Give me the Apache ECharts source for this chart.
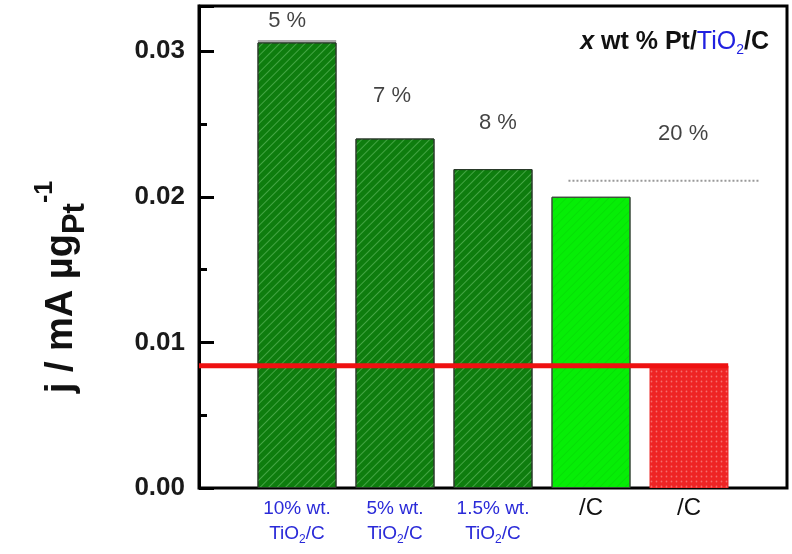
<!DOCTYPE html>
<html>
<head>
<meta charset="utf-8">
<script src="https://cdn.jsdelivr.net/npm/echarts@6/dist/echarts.min.js"></script>
<style>
  html, body { margin: 0; padding: 0; background: #fff; }
  #chart { width: 792px; height: 554px; }
</style>
</head>
<body>
<div id="chart"></div>
<script>
// bar positions on the x value axis and their heights (mA per µg Pt)
var barX = [1, 2, 3, 4, 5];
var barValues = [0.0306, 0.0240, 0.0219, 0.0200, 0.0084];
var xLabels = [
  '{b|10% wt.}\n{b|TiO}{bs|2}{b|/C}',
  '{b|5% wt.}\n{b|TiO}{bs|2}{b|/C}',
  '{b|1.5% wt.}\n{b|TiO}{bs|2}{b|/C}',
  '{k|/C}',
  '{k|/C}'
];
// Pt loading notes floating above the bars
var noteText = ['5 %', '7 %', '8 %', '20 %'];
var noteX = [0.9, 1.97, 3.05, 4.94];
var noteY = [0.0321, 0.0269, 0.0251, 0.0243];
// reference lines
var redLevel = 0.0084;
var redSpan = [0, 5.4];
var dotLevel = 0.0211;
var dotSpan = [3.77, 5.72];
var capLevel = 0.0307;
var capSpan = [0.6, 1.4];
var yTicks = [0, 0.01, 0.02, 0.03];
var yMin = 0, yMax = 0.0331, yStep = 0.01;

(function() {
  var chart = echarts.init(document.getElementById('chart'), null, { renderer: 'canvas' });

  var stripe = {
    symbol: 'rect',
    dashArrayX: [1, 0],
    dashArrayY: [1, 5],
    rotation: -Math.PI / 4,
    color: 'rgba(170,240,170,0.35)'
  };
  var dots = {
    symbol: 'circle',
    symbolSize: 0.6,
    dashArrayX: [[3, 2]],
    dashArrayY: [3, 2],
    color: 'rgba(255,200,200,0.45)'
  };
  var barStyles = [
    { color: '#0e7d0e', borderColor: '#2a3a2a', borderWidth: 1, decal: stripe },
    { color: '#0e7d0e', borderColor: '#2a3a2a', borderWidth: 1, decal: stripe },
    { color: '#0e7d0e', borderColor: '#2a3a2a', borderWidth: 1, decal: stripe },
    { color: '#06ee06', borderColor: '#3a4a3a', borderWidth: 1, decal: { symbol: 'rect', dashArrayX: [1, 0], dashArrayY: [1, 5], rotation: -Math.PI / 4, color: 'rgba(0,150,0,0.15)' } },
    { color: '#ee2424', borderWidth: 0, decal: dots }
  ];

  // thin helper grids whose left axes carry only ticks; their outward ticks
  // land inside the main frame, which gives the inward-tick look
  function tickGrid(left) {
    return { left: left, width: 10, top: 6, bottom: 66, show: false };
  }
  function tickX(idx) {
    return { type: 'value', gridIndex: idx, min: 0, max: 1, show: false };
  }
  function tickY(idx, major) {
    return {
      type: 'value', gridIndex: idx,
      min: yMin, max: yMax, interval: yStep,
      axisLine: { show: false },
      axisLabel: { show: false },
      splitLine: { show: false },
      axisTick: { show: major, length: 15, lineStyle: { color: '#000', width: 3 } },
      minorTick: { show: !major, splitNumber: 2, length: 8, lineStyle: { color: '#000', width: 3 } }
    };
  }

  chart.setOption({
    animation: false,
    grid: [{
      left: 199, right: 5, top: 6, bottom: 66,
      show: true, borderColor: '#000', borderWidth: 3
    }, tickGrid(214), tickGrid(207)],
    title: {
      text: '{xi|x}{t| wt % Pt/}{bl|TiO}{bls|2}{t|/C}',
      right: 18,
      top: 22,
      textStyle: {
        rich: {
          xi: { fontFamily: 'Liberation Sans', fontSize: 25, fontWeight: 'bold', fontStyle: 'italic', color: '#111' },
          t: { fontFamily: 'Liberation Sans', fontSize: 25, fontWeight: 'bold', color: '#111', lineHeight: 30 },
          bl: { fontFamily: 'Liberation Sans', fontSize: 25, fontWeight: 'normal', color: '#2020e0', lineHeight: 30 },
          bls: { fontFamily: 'Liberation Sans', fontSize: 14, fontWeight: 'normal', color: '#2020e0', lineHeight: 14, verticalAlign: 'bottom' }
        }
      }
    },
    xAxis: [{
      type: 'value',
      min: 0,
      max: 6,
      interval: 1,
      axisLine: { show: false },
      axisTick: { show: false },
      splitLine: { show: false },
      axisLabel: {
        margin: 8,
        formatter: function(v) {
          var i = barX.indexOf(v);
          return i < 0 ? '' : xLabels[i];
        },
        rich: {
          b: { fontFamily: 'Liberation Sans', fontSize: 19, color: '#2a2ad8', lineHeight: 25 },
          bs: { fontFamily: 'Liberation Sans', fontSize: 12, color: '#2a2ad8', lineHeight: 12, verticalAlign: 'bottom' },
          k: { fontFamily: 'Liberation Sans', fontSize: 24, color: '#111', lineHeight: 25 }
        }
      }
    }, tickX(1), tickX(2)],
    yAxis: [{
      type: 'value',
      min: yMin,
      max: yMax,
      interval: yStep,
      name: '{m|j / mA \u00b5g}{s|Pt}{p|-1}',
      nameLocation: 'middle',
      nameRotate: 90,
      nameGap: 108,
      nameTextStyle: {
        padding: [0, 80, 0, 0],
        rich: {
          m: { fontFamily: 'Liberation Sans', fontSize: 38, fontWeight: 'bold', color: '#111', lineHeight: 58, verticalAlign: 'middle' },
          s: { fontFamily: 'Liberation Sans', fontSize: 31, fontWeight: 'bold', color: '#111', lineHeight: 31, verticalAlign: 'bottom' },
          p: { fontFamily: 'Liberation Sans', fontSize: 25, fontWeight: 'bold', color: '#111', lineHeight: 25, verticalAlign: 'top' }
        }
      },
      axisLine: { show: true, lineStyle: { color: '#000', width: 3 } },
      axisTick: { show: false },
      minorTick: { show: false },
      splitLine: { show: false },
      axisLabel: {
        margin: 14,
        fontFamily: 'Liberation Sans',
        fontSize: 26,
        fontWeight: 'bold',
        color: '#1a1a1a',
        formatter: function(v) {
          var hit = yTicks.filter(function(t) { return Math.abs(t - v) < 1e-9; });
          return hit.length ? v.toFixed(2) : '';
        }
      }
    }, tickY(1, true), tickY(2, false)],
    series: [
      {
        type: 'bar',
        barWidth: 79,
        data: barX.map(function(x, i) {
          return { value: [x, barValues[i]], itemStyle: barStyles[i] };
        }),
        z: 2
      },
      {
        type: 'line',
        data: [[redSpan[0], redLevel], [redSpan[1], redLevel]],
        symbol: 'none',
        lineStyle: { color: '#ee1111', width: 5 },
        z: 3
      },
      {
        type: 'line',
        data: [[dotSpan[0], dotLevel], [dotSpan[1], dotLevel]],
        symbol: 'none',
        lineStyle: { color: '#999', width: 2, type: [2, 2] },
        z: 3
      },
      {
        type: 'line',
        data: [[capSpan[0], capLevel], [capSpan[1], capLevel]],
        symbol: 'none',
        lineStyle: { color: '#aaa', width: 2 },
        z: 3
      },
      {
        type: 'scatter',
        symbolSize: 0,
        data: noteX.map(function(x, i) { return [x, noteY[i]]; }),
        label: {
          show: true,
          position: 'inside',
          fontFamily: 'Liberation Sans',
          fontSize: 22,
          color: '#111',
          formatter: function(p) { return noteText[p.dataIndex]; }
        },
        z: 4
      }
    ]
  });
  window.addEventListener('resize', function() { chart.resize(); });
})();
</script>
</body>
</html>
